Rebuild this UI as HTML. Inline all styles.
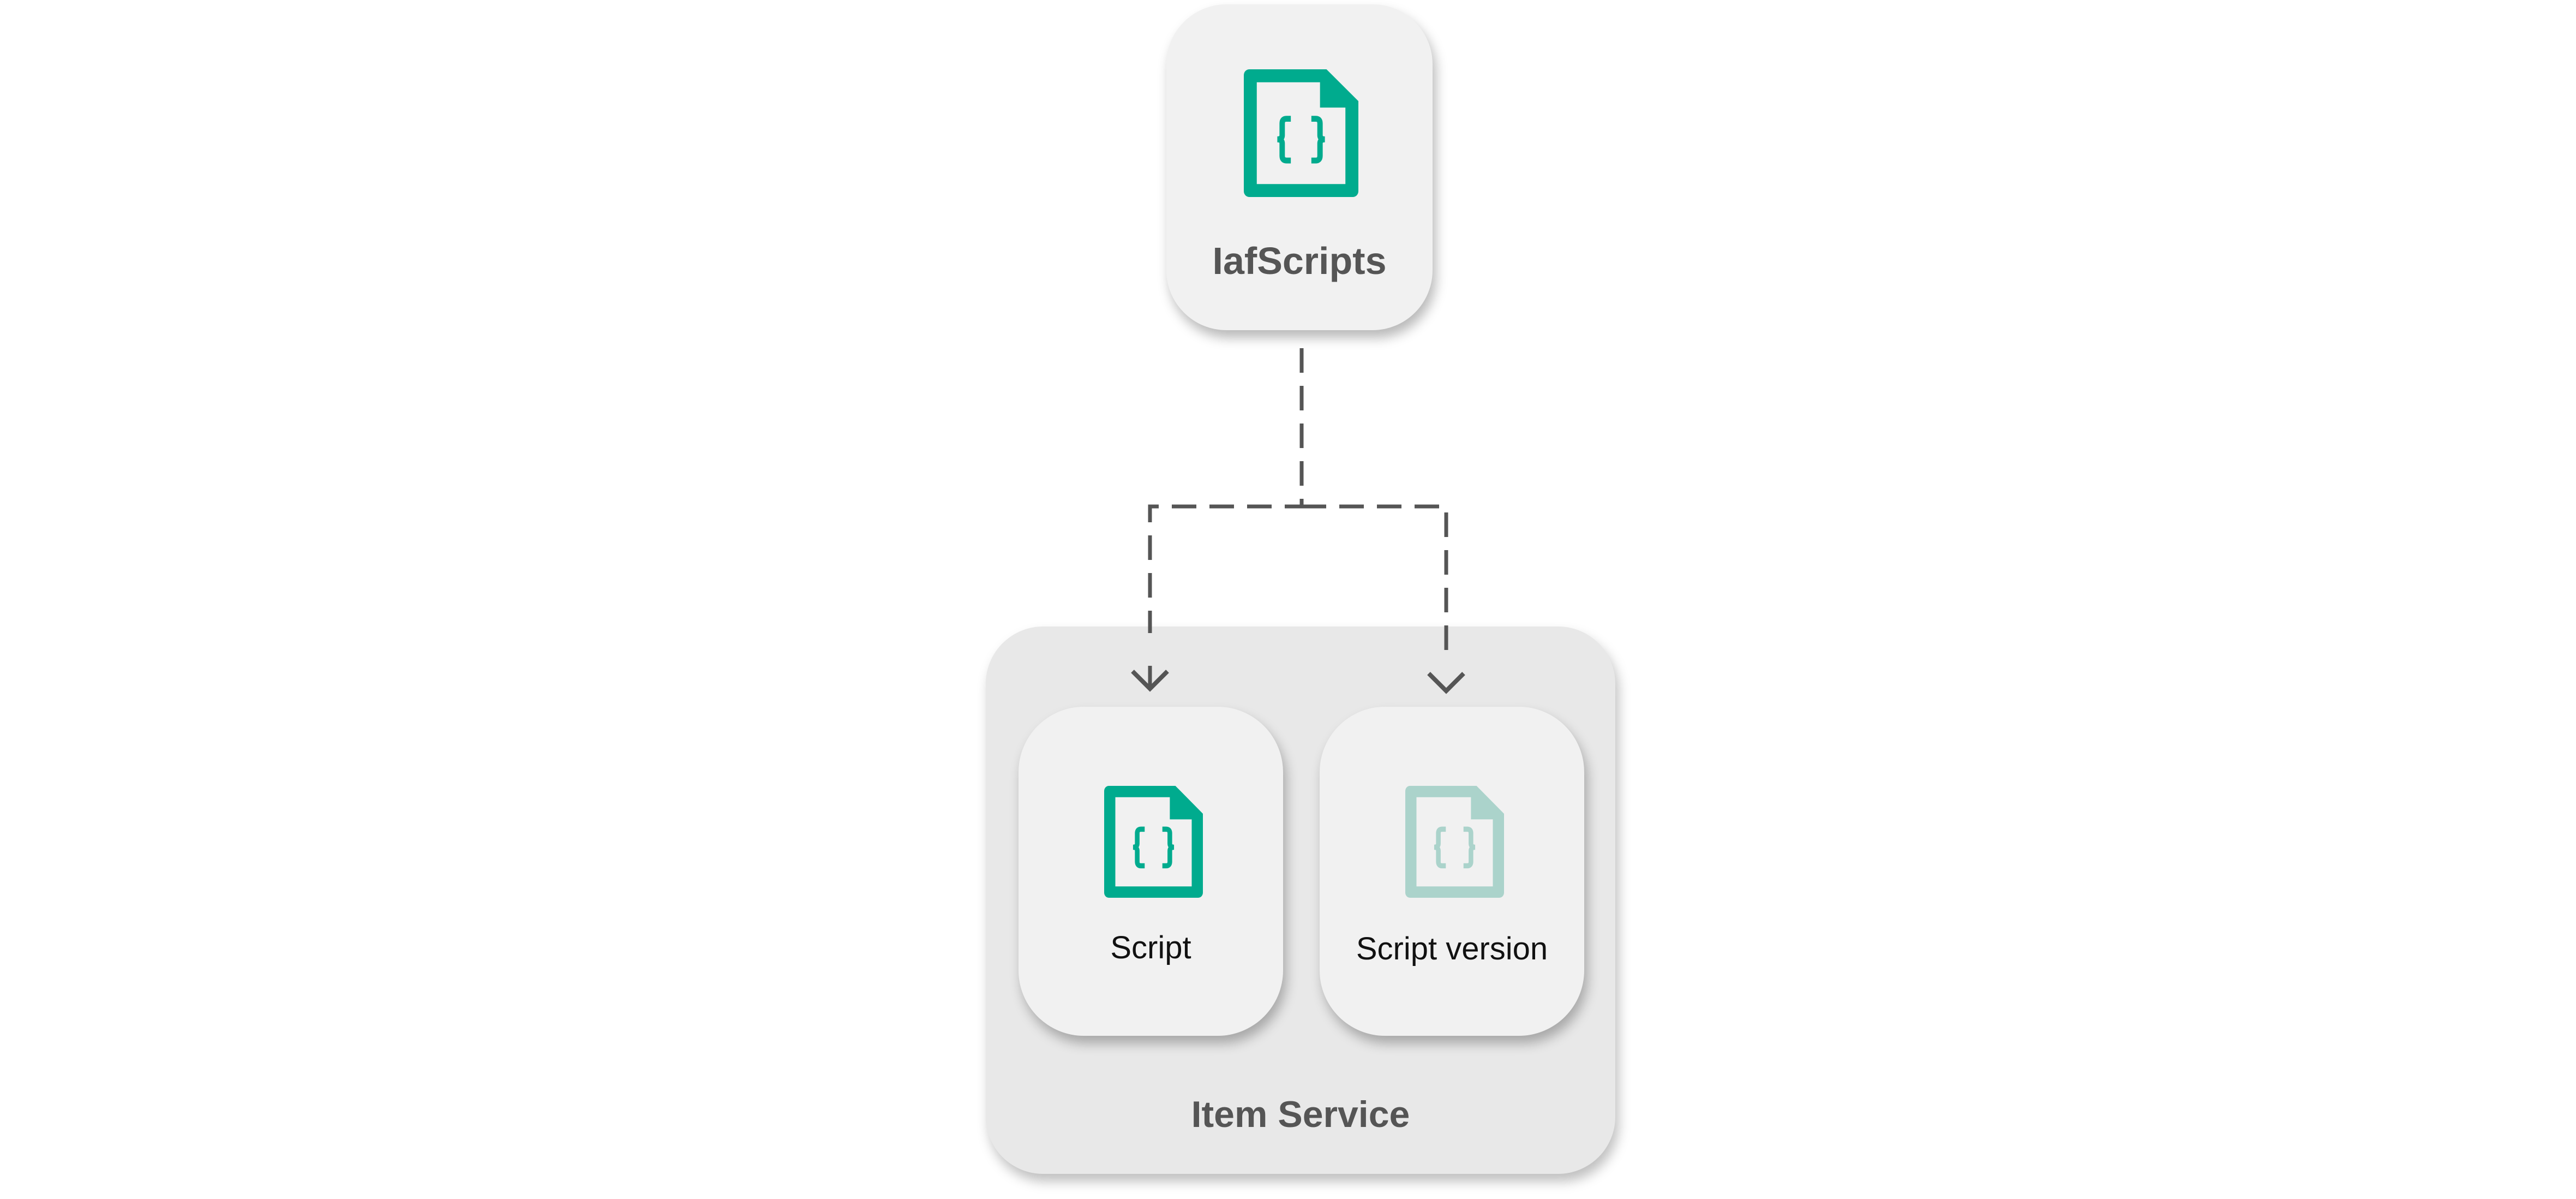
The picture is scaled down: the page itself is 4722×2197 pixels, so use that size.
<!DOCTYPE html>
<html><head><meta charset="utf-8"><style>
html,body{margin:0;padding:0;background:#fff;}
body{width:4722px;height:2197px;position:relative;overflow:hidden;font-family:"Liberation Sans",sans-serif;}
.box{position:absolute;box-sizing:border-box;}
.node{background:#f1f1f1;box-shadow:6px 14px 22px rgba(0,0,0,0.28);}
.lbl{position:absolute;left:0;right:0;text-align:center;}
</style></head><body>
<svg width="0" height="0" style="position:absolute">
<defs>
<symbol id="ic" viewBox="0 0 212 217" preserveAspectRatio="none">
<path d="M10 0H153L212 54V207A10 10 0 0 1 202 217H10A10 10 0 0 1 0 207V10A10 10 0 0 1 10 0Z" fill="currentColor"/>
<polygon points="24,22 141,22 141,65 188,65 188,195 24,195" fill="#f1f1f1"/>
<path d="M87,84H79Q71,84 71,92V112Q71,119 62,119Q71,119 71,126V147Q71,155 79,155H87" fill="none" stroke="currentColor" stroke-width="10"/>
<path d="M125,84H133Q141,84 141,92V112Q141,119 150,119Q141,119 141,126V147Q141,155 133,155H125" fill="none" stroke="currentColor" stroke-width="10"/>
</symbol>
</defs></svg>

<!-- top node -->
<div class="box node" style="left:2138px;top:8px;width:488px;height:597px;border-radius:110px;">
<svg style="position:absolute;left:142px;top:119px;color:#00ab8e" width="210" height="234"><use href="#ic"/></svg>
<div class="lbl" style="top:430px;font-size:70px;font-weight:bold;color:#555;">IafScripts</div>
</div>

<!-- container -->
<div class="box" style="left:1807px;top:1148px;width:1154px;height:1003px;border-radius:105px;background:#e8e8e8;box-shadow:6px 14px 22px rgba(0,0,0,0.25);">
<div class="lbl" style="top:855px;font-size:68px;font-weight:bold;color:#555;">Item Service</div>
</div>

<div class="box node" style="left:1867px;top:1295px;width:485px;height:603px;border-radius:120px;">
<svg style="position:absolute;left:157px;top:145px;color:#00ab8e" width="181" height="205"><use href="#ic"/></svg>
<div class="lbl" style="top:408px;font-size:58px;color:#111;">Script</div>
</div>

<div class="box node" style="left:2419px;top:1295px;width:485px;height:603px;border-radius:120px;">
<svg style="position:absolute;left:157px;top:145px;color:#abd3cb" width="181" height="205"><use href="#ic"/></svg>
<div class="lbl" style="top:410px;font-size:58px;color:#111;">Script version</div>
</div>

<!-- connectors -->
<svg style="position:absolute;left:0;top:0" width="4722" height="2197">
<g fill="none" stroke="#555" stroke-width="7">
<path d="M2386 638V928H2108V1160" stroke-dasharray="45 24"/>
<path d="M2386 928H2651V1210" stroke-dasharray="45 24"/>
<path d="M2108 1220V1262"/>
<path d="M2076 1230L2108 1262L2140 1230" stroke-width="8"/>
<path d="M2619 1234L2651 1266L2683 1234" stroke-width="8"/>
</g>
</svg>
</body></html>
